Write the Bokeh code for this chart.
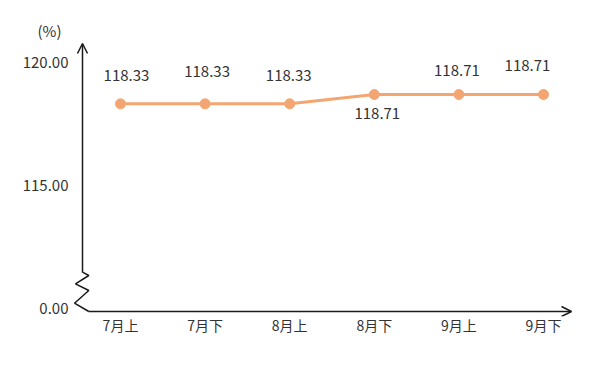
from bokeh.plotting import figure
from bokeh.models import (ColumnDataSource, Range1d, FixedTicker, Arrow, OpenHead)
from bokeh.core.properties import value
from bokeh.embed import file_html
from bokeh.resources import INLINE

# ---- data ----
categories = ["7月上", "7月下", "8月上", "8月下", "9月上", "9月下"]
values = [118.33, 118.33, 118.33, 118.71, 118.71, 118.71]
value_labels = ["118.33", "118.33", "118.33", "118.71", "118.71", "118.71"]
y_tick_values = [110, 115, 120]          # 110 stands for the broken-axis "0.00"
y_tick_labels = ["0.00", "115.00", "120.00"]
unit_label = "(%)"

# label placement (screen px) -- style only
label_dx = [6, 2, -1, 3, -2, -16]
label_dy = [-28, -32, -28, 19, -24, -29]

FONT = "Noto Sans CJK SC"
TXT = "#333333"
LINE_C = "#F4A672"
AX_C = "#1a1a1a"

# pixel scale helpers (page coordinates -> data), for decorations
PX_X = 84.6      # px per category
X0_PAGE = 120.0  # page x of first category
PX_Y = 24.52     # px per unit
Y115_PAGE = 185.0
FRAME_L, FRAME_R, FRAME_T, FRAME_B = 72, 580, 40, 316

def dx(page_x):
    return (page_x - X0_PAGE) / PX_X

def dy(page_y):
    return 115 + (Y115_PAGE - page_y) / PX_Y

xs = list(range(len(categories)))

W, H = 584, 355
p = figure(width=W, height=H, output_backend="svg", toolbar_location=None,
           x_range=Range1d(dx(FRAME_L), dx(FRAME_R)), y_range=Range1d(dy(FRAME_B), dy(FRAME_T)),
           min_border_left=FRAME_L, min_border_right=W - FRAME_R,
           min_border_top=FRAME_T, min_border_bottom=H - FRAME_B,
           background_fill_color="white", border_fill_color="white")
p.outline_line_color = None
p.grid.visible = False

# unit label as a left-aligned title shifted over the y axis labels
p.title.text = unit_label
p.title.align = "left"
p.title.offset = -35
p.title.standoff = 0
p.title.text_font = FONT
p.title.text_font_size = "15px"
p.title.text_font_style = "normal"
p.title.text_color = TXT

# axes (labels only)
p.xaxis.ticker = FixedTicker(ticks=xs)
p.xaxis.major_label_overrides = {i: c for i, c in enumerate(categories)}
p.yaxis.ticker = FixedTicker(ticks=y_tick_values)
p.yaxis.major_label_overrides = {v: l for v, l in zip(y_tick_values, y_tick_labels)}
for ax in (p.xaxis, p.yaxis):
    ax.axis_line_color = None
    ax.major_tick_line_color = None
    ax.minor_tick_line_color = None
    ax.major_label_text_font = FONT
    ax.major_label_text_color = TXT
    ax.major_label_text_font_size = "14px"
p.yaxis.major_label_text_font_size = "15px"
p.yaxis.major_label_standoff = -2
p.xaxis.major_label_standoff = -8

# axis lines with arrows and the break zigzag
yx = dx(82)
p.add_layout(Arrow(x_start=yx, y_start=dy(272), x_end=yx, y_end=dy(43),
                   line_color=AX_C, line_width=1.5,
                   end=OpenHead(size=10, line_color=AX_C, line_width=1.5)))
zz_px = [(82, 271.7), (88.3, 275), (75, 283.3), (88.3, 290), (74, 302.7), (88.3, 311)]
p.line([dx(a) for a, b in zz_px], [dy(b) for a, b in zz_px], line_color=AX_C, line_width=1.5)
p.add_layout(Arrow(x_start=dx(88.3), y_start=dy(311), x_end=dx(571), y_end=dy(311),
                   line_color=AX_C, line_width=1.5,
                   end=OpenHead(size=10, line_color=AX_C, line_width=1.5)))

# series
src = ColumnDataSource(dict(x=xs, y=values, lab=value_labels, ox=label_dx, oy=label_dy))
p.line("x", "y", source=src, line_color=LINE_C, line_width=3)
p.scatter("x", "y", source=src, size=10, fill_color=LINE_C, line_color=LINE_C)
p.text("x", "y", text="lab", source=src, x_offset="ox", y_offset="oy",
       text_align="center", text_baseline="middle", text_font=value(FONT),
       text_font_size="15px", text_color=TXT)

open("out.html", "w").write(file_html(p, INLINE))
